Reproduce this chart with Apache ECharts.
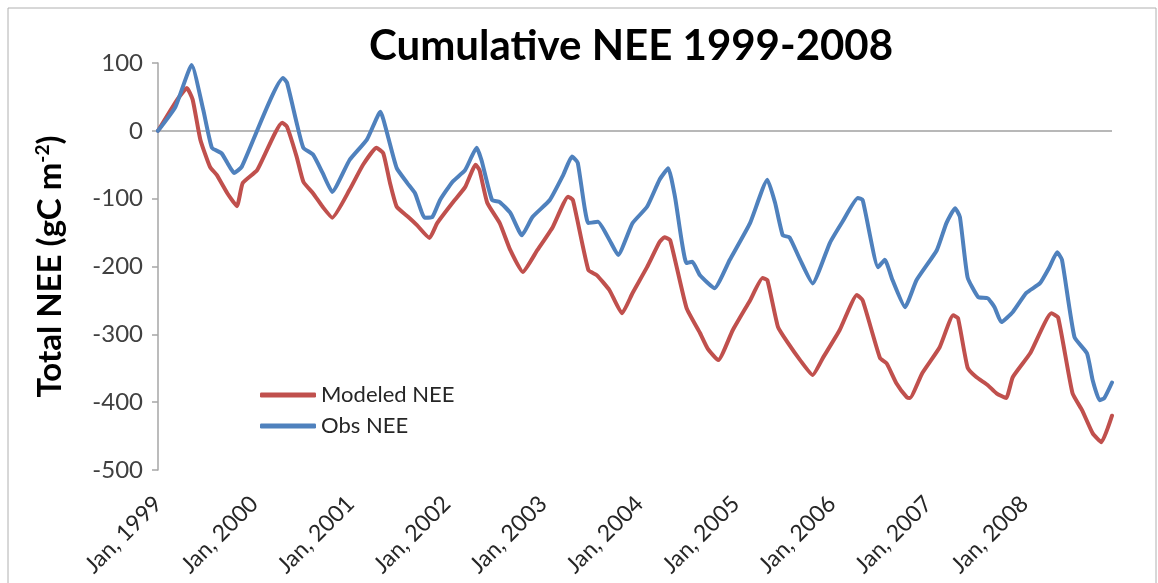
<!DOCTYPE html>
<html>
<head>
<meta charset="utf-8">
<title>Cumulative NEE 1999-2008</title>
<script src="https://cdn.jsdelivr.net/npm/echarts@6/dist/echarts.min.js"></script>
<style>
html,body{margin:0;padding:0;background:#fff}
#chart{width:1158px;height:583px}
</style>
</head>
<body>
<div id="chart"></div>
<script>
// year ticks on the x axis (labels are "Jan, <year>")
var yearTicks = [1999, 2000, 2001, 2002, 2003, 2004, 2005, 2006, 2007, 2008];
var tickLabels = yearTicks.map(function (y) { return 'Jan, ' + y; });

// observed NEE, x in decimal years, y in gC m-2
var obsX = [1999.00, 1999.18, 1999.35, 1999.47, 1999.56, 1999.66, 1999.72, 1999.79, 1999.87,
  2000.30, 2000.34, 2000.44, 2000.51, 2000.61, 2000.71, 2000.81, 2000.99,
  2001.17, 2001.31, 2001.39, 2001.48, 2001.59, 2001.67, 2001.77, 2001.85, 2001.93,
  2002.06, 2002.19, 2002.31, 2002.36, 2002.47, 2002.55, 2002.66, 2002.78, 2002.89,
  2003.07, 2003.21, 2003.30, 2003.36, 2003.47, 2003.57, 2003.69, 2003.78, 2003.93,
  2004.08, 2004.21, 2004.30, 2004.37, 2004.49, 2004.55, 2004.63, 2004.78, 2004.94,
  2005.15, 2005.33, 2005.41, 2005.49, 2005.56, 2005.67, 2005.80, 2005.98,
  2006.11, 2006.27, 2006.32, 2006.48, 2006.55, 2006.63, 2006.76, 2006.88,
  2007.09, 2007.19, 2007.28, 2007.33, 2007.41, 2007.52, 2007.62, 2007.69, 2007.76, 2007.88,
  2008.02, 2008.16, 2008.26, 2008.34, 2008.39, 2008.52, 2008.65, 2008.71, 2008.78, 2008.83, 2008.91];
var obsY = [0, 35, 97, 31, -25, -33, -47, -62, -53,
  78, 71, 12, -25, -35, -62, -90, -43,
  -13, 28, -9, -55, -77, -92, -128, -127, -102,
  -75, -58, -25, -43, -102, -105, -121, -154, -127,
  -102, -65, -38, -47, -136, -134, -161, -183, -136,
  -112, -72, -55, -97, -195, -193, -213, -232, -190,
  -136, -72, -106, -154, -157, -190, -225, -165,
  -134, -99, -102, -201, -190, -220, -260, -220,
  -176, -136, -114, -127, -216, -245, -247, -260, -282, -267,
  -239, -225, -201, -179, -190, -304, -328, -368, -397, -394, -371];

// modeled NEE
var modX = [1999.00, 1999.20, 1999.30, 1999.36, 1999.44, 1999.54, 1999.61, 1999.72, 1999.82, 1999.88,
  2000.03, 2000.29, 2000.34, 2000.44, 2000.51, 2000.61, 2000.71, 2000.81, 2000.99,
  2001.13, 2001.27, 2001.34, 2001.41, 2001.48, 2001.60, 2001.69, 2001.82, 2001.90,
  2002.06, 2002.19, 2002.30, 2002.34, 2002.42, 2002.55, 2002.66, 2002.79, 2002.94,
  2003.10, 2003.26, 2003.31, 2003.47, 2003.56, 2003.69, 2003.82, 2003.93,
  2004.08, 2004.21, 2004.26, 2004.32, 2004.49, 2004.63, 2004.71, 2004.82, 2004.97,
  2005.15, 2005.28, 2005.33, 2005.44, 2005.54, 2005.67, 2005.80, 2005.91,
  2006.08, 2006.26, 2006.32, 2006.50, 2006.57, 2006.67, 2006.78, 2006.81, 2006.94,
  2007.12, 2007.26, 2007.31, 2007.41, 2007.50, 2007.62, 2007.71, 2007.81, 2007.88,
  2008.06, 2008.28, 2008.35, 2008.50, 2008.60, 2008.71, 2008.80, 2008.91];
var modY = [0, 46, 63, 46, -13, -53, -65, -92, -111, -77,
  -58, 12, 6, -38, -75, -92, -112, -128, -87,
  -50, -25, -33, -77, -112, -127, -139, -158, -136,
  -106, -83, -50, -58, -106, -136, -176, -208, -176,
  -142, -97, -102, -205, -213, -235, -269, -239,
  -201, -164, -157, -161, -261, -298, -321, -338, -294,
  -250, -217, -220, -289, -312, -338, -360, -334,
  -294, -242, -250, -335, -343, -372, -393, -394, -357,
  -319, -272, -276, -349, -363, -375, -387, -394, -363,
  -328, -269, -275, -387, -412, -446, -459, -420];

function pairs(xs, ys) {
  var out = [];
  for (var i = 0; i < xs.length; i++) {
    out.push([xs[i], ys[i]]);
  }
  return out;
}

var axisGray = '#a6a6a6';
var font = 'Lato, "Open Sans", sans-serif';

var chart = echarts.init(document.getElementById('chart'));
chart.setOption({
  animation: false,
  backgroundColor: '#fff',
  textStyle: { fontFamily: font },
  title: {
    text: 'Cumulative NEE 1999-2008',
    left: 364,
    top: 20,
    textStyle: { fontSize: 42, fontWeight: 'bold', color: '#000', fontFamily: font }
  },
  graphic: [{
    type: 'rect',
    shape: { x: 8, y: 8, width: 1148, height: 600 },
    style: { fill: 'none', stroke: '#b0b0b0', lineWidth: 1 },
    silent: true
  }],
  legend: {
    orient: 'vertical',
    left: 255,
    top: 379,
    icon: 'roundRect',
    itemWidth: 56,
    itemHeight: 5,
    itemGap: 9,
    textStyle: { fontSize: 22, color: '#262626', fontFamily: font },
    data: ['Modeled NEE', 'Obs NEE']
  },
  grid: { left: 158, right: 46, top: 63, bottom: 113, outerBoundsMode: 'none', containLabel: false },
  xAxis: {
    type: 'value',
    min: 1999,
    max: 2008.91,
    interval: 1,
    axisLine: { show: false, onZero: false },
    axisTick: { show: false },
    splitLine: { show: false },
    axisLabel: {
      rotate: 45,
      margin: 30,
      fontSize: 23,
      color: '#262626',
      showMaxLabel: false,
      formatter: function (v) {
        var i = yearTicks.indexOf(Math.round(v * 1000) / 1000);
        return i < 0 ? '' : tickLabels[i];
      }
    }
  },
  yAxis: {
    type: 'value',
    min: -500,
    max: 100,
    interval: 100,
    name: '{b|Total NEE (gC m}{s|-2}{b|)}',
    nameLocation: 'middle',
    nameGap: 90,
    nameTextStyle: {
      rich: {
        b: { fontSize: 33, fontWeight: 'bold', color: '#000', fontFamily: font, lineHeight: 35 },
        s: { fontSize: 19, fontWeight: 'bold', color: '#000', fontFamily: font, verticalAlign: 'top', lineHeight: 35 }
      }
    },
    axisLine: { show: true, lineStyle: { color: axisGray, width: 1.5 } },
    axisTick: { show: true, length: 6, lineStyle: { color: axisGray, width: 1.5 } },
    splitLine: { show: false },
    axisLabel: { fontSize: 24, color: '#404040', margin: 15 }
  },
  series: [{
    name: 'Modeled NEE',
    type: 'line',
    symbol: 'none',
    color: '#c0504d',
    smooth: 0.15,
    lineStyle: { width: 4, color: '#c0504d', join: 'round', cap: 'round' },
    data: pairs(modX, modY),
    markLine: {
      silent: true,
      symbol: 'none',
      label: { show: false },
      lineStyle: { color: '#a0a0a0', width: 1.5, type: 'solid' },
      data: [{ yAxis: 0 }],
      z: 1
    }
  }, {
    name: 'Obs NEE',
    type: 'line',
    symbol: 'none',
    color: '#4f81bd',
    smooth: 0.15,
    lineStyle: { width: 4, color: '#4f81bd', join: 'round', cap: 'round' },
    data: pairs(obsX, obsY)
  }]
});
</script>
</body>
</html>
